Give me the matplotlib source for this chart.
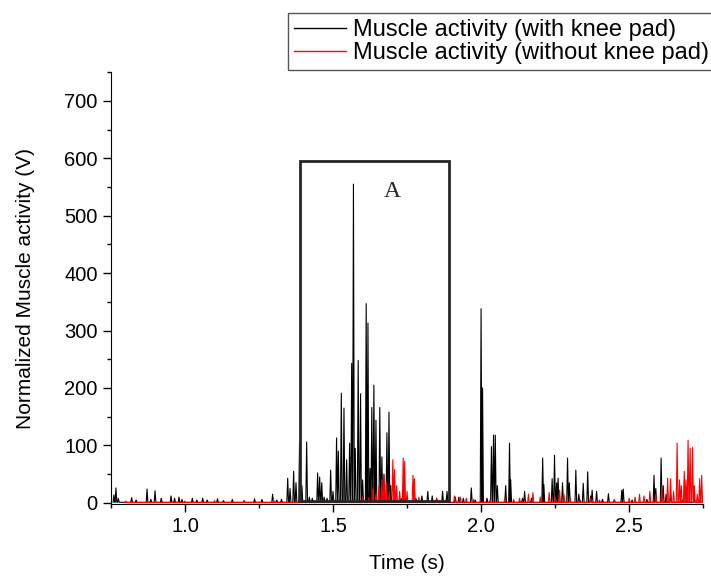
import matplotlib
matplotlib.use('Agg')
import matplotlib.pyplot as plt
from matplotlib.patches import Rectangle

plt.rcParams['font.family'] = ['Liberation Sans', 'DejaVu Sans']

# spike peaks: (time in s, activity in V)
knee_pad_peaks = [
    (0.760, 14), (0.767, 26), (0.775, 8), (0.820, 9), (0.835, 5), (0.872, 24),
    (0.885, 6), (0.899, 21), (0.920, 8), (0.953, 12), (0.965, 8), (0.980, 10),
    (0.990, 6), (1.025, 8), (1.040, 5), (1.060, 8), (1.075, 5), (1.110, 7),
    (1.130, 4), (1.160, 6), (1.200, 4), (1.235, 7), (1.260, 6), (1.296, 15),
    (1.310, 5), (1.326, 6), (1.347, 43), (1.355, 25), (1.367, 55), (1.375, 35),
    (1.387, 104), (1.395, 30), (1.411, 106), (1.420, 10), (1.430, 8),
    (1.448, 52), (1.455, 45), (1.462, 35), (1.470, 10), (1.480, 8), (1.492, 57),
    (1.500, 20), (1.512, 113), (1.518, 90), (1.528, 191), (1.537, 165),
    (1.546, 75), (1.556, 104), (1.563, 243), (1.569, 555), (1.575, 95),
    (1.585, 248), (1.593, 190), (1.600, 40), (1.612, 347), (1.618, 313),
    (1.625, 60), (1.631, 166), (1.638, 205), (1.645, 144), (1.658, 166),
    (1.665, 80), (1.672, 50), (1.682, 122), (1.689, 158), (1.695, 30),
    (1.710, 10), (1.730, 8), (1.750, 6), (1.780, 8), (1.800, 12), (1.820, 20),
    (1.835, 12), (1.850, 8), (1.870, 20), (1.885, 20),
    (1.913, 10), (1.925, 10), (1.940, 8), (1.967, 26), (1.980, 5), (2.000, 338),
    (2.005, 200), (2.020, 8), (2.035, 98), (2.042, 118), (2.048, 118),
    (2.055, 30), (2.083, 30), (2.096, 104), (2.100, 40), (2.140, 8),
    (2.147, 20), (2.170, 8), (2.208, 78), (2.212, 32), (2.240, 42), (2.248, 83),
    (2.255, 35), (2.260, 43), (2.275, 35), (2.292, 78), (2.298, 35), (2.320, 57),
    (2.330, 15), (2.345, 34), (2.360, 54), (2.370, 12), (2.375, 22), (2.390, 20),
    (2.410, 6), (2.430, 16), (2.450, 5), (2.475, 22), (2.480, 24), (2.510, 5),
    (2.560, 6), (2.584, 48), (2.590, 25), (2.608, 78), (2.615, 30), (2.625, 15),
    (2.640, 15), (2.680, 5), (2.720, 8), (2.740, 6),
]

no_pad_peaks = [
    (0.800, 3), (0.900, 4), (1.000, 3), (1.100, 4), (1.200, 3), (1.300, 4),
    (1.400, 3), (1.500, 3), (1.550, 5), (1.600, 10), (1.620, 8), (1.635, 25),
    (1.645, 15), (1.655, 30), (1.665, 40), (1.672, 48), (1.680, 35), (1.690, 20),
    (1.702, 75), (1.708, 58), (1.715, 30), (1.725, 20), (1.737, 78), (1.742, 72),
    (1.750, 20), (1.770, 48), (1.775, 42), (1.790, 10), (1.820, 6), (1.850, 8),
    (1.880, 5), (1.910, 12), (1.930, 10), (1.950, 8), (1.975, 6), (2.030, 5),
    (2.080, 8), (2.110, 6), (2.130, 8), (2.160, 15), (2.175, 18), (2.200, 10),
    (2.230, 18), (2.250, 10), (2.265, 22), (2.280, 15), (2.300, 10), (2.335, 5),
    (2.370, 8), (2.400, 5), (2.450, 6), (2.500, 8), (2.520, 10), (2.535, 15),
    (2.550, 12), (2.570, 20), (2.590, 15), (2.610, 30), (2.630, 43), (2.640, 42),
    (2.650, 20), (2.662, 104), (2.670, 40), (2.676, 30), (2.686, 55), (2.692, 40),
    (2.699, 109), (2.706, 95), (2.714, 97), (2.720, 30), (2.730, 15), (2.738, 42),
    (2.745, 48),
]

series_labels = ['Muscle activity (with knee pad)', 'Muscle activity (without knee pad)']
x_ticks = [1.0, 1.5, 2.0, 2.5]
y_ticks = [0, 100, 200, 300, 400, 500, 600, 700]


def spikes(peaks, half_width, base):
    # each peak becomes a narrow up-and-down stroke on the baseline
    t = []
    v = []
    for pt, pv in peaks:
        t += [pt - half_width, pt, pt + half_width]
        v += [base, pv, base]
    return t, v


fig = plt.figure(figsize=(7.11, 5.77), dpi=100)
ax = fig.add_axes([0.156, 0.1265, 0.833, 0.7485])

t1, v1 = spikes(knee_pad_peaks, 0.0028, 1)
t2, v2 = spikes(no_pad_peaks, 0.0028, 0.5)
ax.plot(t1, v1, color='black', lw=0.8, label=series_labels[0])
ax.plot(t2, v2, color='#ff0000', lw=0.8, label=series_labels[1])

# box marking region A
ax.add_patch(Rectangle((1.39, 3), 0.5, 592, fill=False, edgecolor='#262626', lw=2, zorder=5))
ax.text(1.70, 543, 'A', family=['Liberation Serif', 'DejaVu Serif'], fontsize=17,
        ha='center', va='center', color='#262626')

ax.set_xlim(0.75, 2.75)
ax.set_ylim(-2, 750)
ax.set_xticks(x_ticks)
ax.set_xticks([0.75, 1.25, 1.75, 2.25, 2.75], minor=True)
ax.set_yticks(y_ticks)
ax.set_yticks([50, 150, 250, 350, 450, 550, 650, 750], minor=True)
ax.spines['top'].set_visible(False)
ax.spines['right'].set_visible(False)
ax.tick_params(which='major', direction='out', length=5.5, width=1, labelsize=14.5, pad=4)
ax.tick_params(which='minor', direction='out', length=3, width=1)
ax.set_xlabel('Time (s)', fontsize=15, labelpad=13)
ax.set_ylabel('Normalized Muscle activity (V)', fontsize=15, labelpad=21)

# legend box runs past the right edge of the figure, as in the original
leg = fig.legend(loc='upper left', mode='expand',
                 bbox_to_anchor=(288 / 711, 0.5, 440 / 711, 0.5 - 13 / 577), fontsize=17,
                 frameon=True, fancybox=False, edgecolor='#555555', framealpha=1,
                 handlelength=2.2, handletextpad=0.3, labelspacing=0.05, borderpad=0.25,
                 borderaxespad=0)
leg.get_frame().set_linewidth(1)
for h in leg.get_lines():
    h.set_linewidth(1)

fig.savefig('out.png', dpi=100)
